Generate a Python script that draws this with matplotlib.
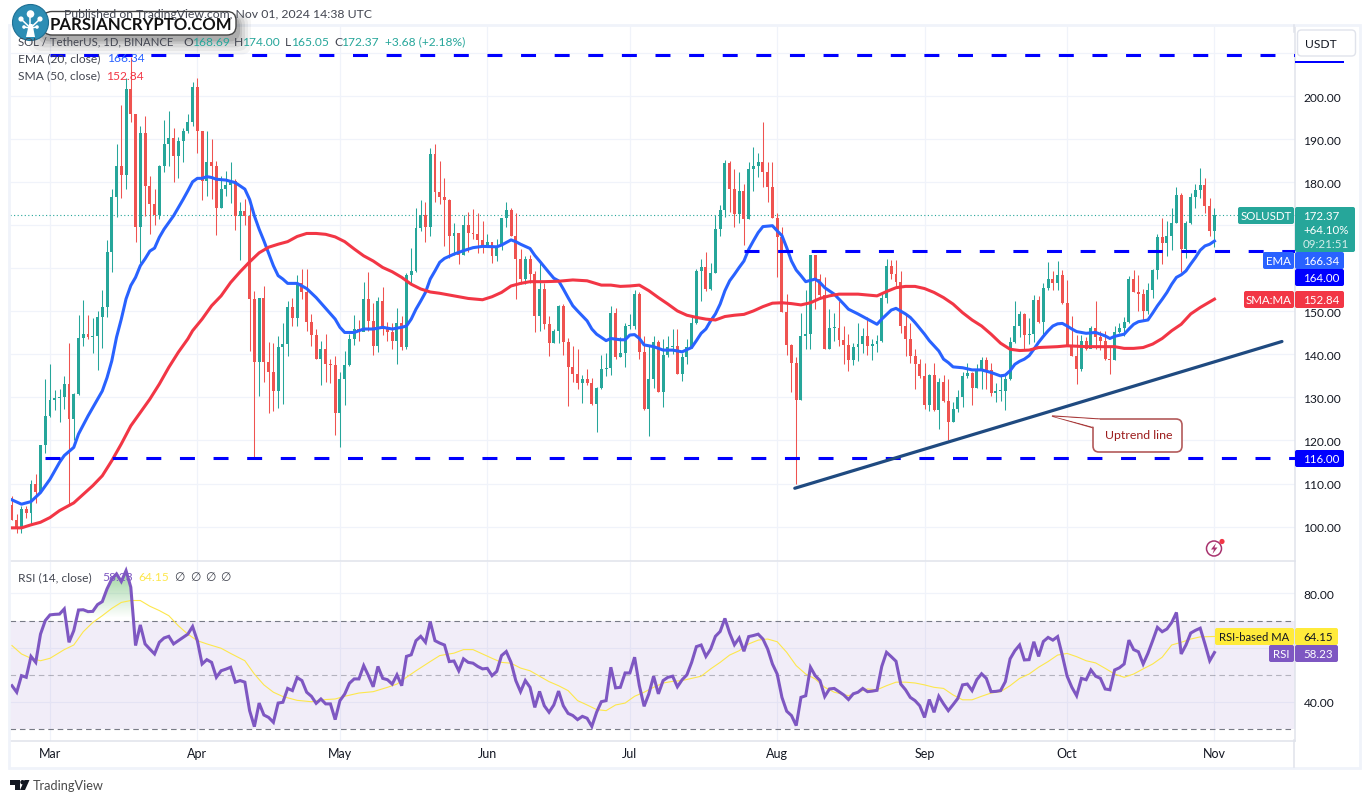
import numpy as np
import matplotlib
matplotlib.use("Agg")
from matplotlib import pyplot as plt
from matplotlib.patches import Circle, FancyBboxPatch, Polygon, Rectangle
from matplotlib.path import Path

plt.rcParams['font.family'] = ['Lato', 'DejaVu Sans']

W, H = 1370, 804

# days are counted from 1 Mar 2024, first candle is 22 Feb
first_day = -8
first_open = 105.0
closes = [
    101.6, 99.6, 104.1, 103.1, 109.9, 108.1, 118.9, 125.7, 129.4, 129.8,
    130, 133.1, 125, 130.8, 143.8, 144.7, 144, 144.2, 148.6, 151,
    163.7, 176.5, 183.7, 181.7, 201.6, 195.8, 169.6, 191.5, 179.2, 174.9,
    172.3, 183.8, 188.9, 190.2, 186.1, 189.5, 191.8, 194.1, 202.2, 192,
    180.3, 184.8, 183.8, 174, 178.5, 179.3, 180.3, 172.2, 173.3, 172.2,
    152.9, 138.3, 153, 138.3, 136, 131.5, 141.8, 142.4, 151.1, 148.4,
    156.7, 154.5, 147.6, 144.6, 138.9, 141.2, 137.7, 137.6, 126.4, 134.4,
    137.5, 143.6, 145.9, 145.3, 152.9, 147.8, 142, 152.4, 145.9, 145.3,
    143.1, 147.4, 141.8, 158.5, 159.3, 169.3, 172.3, 169.6, 186.5, 177.8,
    176.6, 175.9, 167.5, 168.2, 163, 170, 168.3, 168, 166.5, 165.1,
    166, 162.9, 165.2, 171.6, 173.6, 167.6, 162.1, 157.5, 162.1, 158.6,
    149, 155.2, 147, 142.6, 145.5, 151.3, 142.9, 137.1, 135.4, 133.3,
    134.4, 133.3, 128.4, 132.1, 136.6, 136.8, 149.6, 139.5, 140.3, 146.5,
    146.5, 154, 140.6, 127.4, 134.2, 142.8, 131.3, 139.8, 141.8, 141.9,
    135.4, 139.3, 141.8, 147.4, 159.3, 160.4, 155.2, 159, 169.1, 173.5,
    184.4, 178.5, 172.6, 177.9, 171.4, 183, 183.7, 184.8, 182.3, 179,
    171.6, 167.2, 149.9, 142.2, 138, 129.4, 144.2, 144.7, 163, 157.5,
    153.8, 141.2, 146.1, 146.2, 143.4, 142.2, 138.7, 141.8, 142.4, 144.2,
    142, 142.4, 143, 153, 160.6, 158.6, 156.9, 146.6, 143.5, 139.7,
    137.7, 134.9, 128.2, 135.2, 127.1, 133.5, 129.2, 124.2, 127.4, 130,
    134.9, 135.7, 132.1, 136.2, 138.7, 136.4, 131, 131.5, 131.6, 134.2,
    142.8, 146.5, 149.4, 144.5, 144.7, 152.6, 147.6, 155.4, 157.5, 156.5,
    158.4, 151.9, 142, 139.7, 136.6, 143.1, 141.2, 146.2, 144, 143.2,
    138.9, 138.8, 145.3, 146.2, 147.6, 157.5, 154.4, 154, 150.1, 154.9,
    159.7, 167.3, 165.8, 167.6, 170.6, 177, 164.5, 170.6, 176.5, 178.2,
    179.3, 174.4, 168.69, 172.37,
]
highs = [
    107.2, 103, 104.7, 104.7, 110.8, 112.2, 119, 134.4, 137.7, 131.7,
    131.9, 135, 142.6, 131, 149.1, 152.6, 149.1, 148.4, 150.1, 155,
    166.6, 178.4, 188.9, 197.9, 204.3, 209, 195.8, 193.1, 195.4, 181.5,
    178.4, 183.9, 194.5, 196.6, 192.7, 190.4, 192.7, 195.8, 203.2, 204.3,
    192, 192, 190, 185, 181.5, 182.6, 184.6, 180.7, 175.3, 176.2,
    176, 154.8, 153.2, 155.9, 142.8, 142.6, 144.2, 147.4, 152.4, 153.2,
    158.4, 159.8, 159.8, 149.5, 146, 143, 144.7, 138.9, 139.7, 135.8,
    140.8, 144.7, 149.1, 148, 156.9, 159.2, 151.9, 153.3, 155.6, 147.6,
    147.3, 150.7, 149, 159, 164.7, 173.9, 175.8, 175.3, 188, 188.8,
    184.9, 180.9, 176, 170.5, 168.3, 172.3, 173, 173.7, 172.8, 171,
    168, 166.2, 166.9, 171.8, 175.3, 174.1, 172.8, 164.5, 162.9, 163,
    159.4, 161.7, 156.5, 149, 145.9, 151.4, 151.7, 143.7, 142, 141.2,
    135.2, 136.6, 134.6, 132.5, 139.8, 140.3, 151.3, 150.7, 144, 147.4,
    149.3, 154.9, 154.5, 144.3, 142, 144.3, 143.3, 143.5, 144.2, 146,
    146, 140.3, 143.5, 149, 159.8, 162.1, 163.7, 161.3, 172.3, 174.7,
    185.2, 185, 183, 182.3, 179.5, 184.8, 188.1, 186.8, 194, 184.8,
    184.8, 172.8, 169.5, 154, 142.4, 139.4, 149.6, 154.9, 163, 163,
    158.6, 157.9, 150.6, 149.7, 152.3, 146.6, 144.7, 142.7, 147.2, 146.2,
    148.6, 143.5, 144.6, 154, 162.1, 162, 162, 159.4, 149.4, 147.2,
    141.2, 139, 138, 135.4, 138, 134.6, 135.2, 134.2, 129, 131.7,
    136, 138, 135.8, 137.7, 139.5, 139.5, 138, 133.3, 135.4, 135.4,
    144, 152.3, 150.1, 149.7, 148.5, 153.8, 153.6, 156.7, 161.5, 159.4,
    161.7, 159.6, 157.2, 149, 144.5, 144.5, 144, 146.6, 152.3, 145.5,
    145.5, 142, 146.6, 147.4, 148.6, 158.3, 159.6, 158.4, 155.2, 156.5,
    159.8, 167.9, 171.6, 170.9, 174.1, 179, 177.6, 171, 177.6, 179.6,
    183.2, 181.1, 176.4, 174,
]
lows = [
    101.6, 98.6, 98.6, 102.1, 100.5, 105.5, 107.9, 117.2, 125.5, 127.1,
    124.2, 127.3, 105, 120, 130.6, 142, 143.6, 140.3, 136.4, 141.5,
    148.8, 159.1, 172, 176.4, 178.4, 193.9, 166, 161.3, 172.2, 168,
    170, 171.4, 182.3, 183.8, 180, 181, 184.6, 191.5, 193, 186.9,
    175.9, 176.8, 176, 167.8, 174, 176.8, 175.1, 169, 162, 170,
    140.8, 115.9, 130.4, 133.5, 126.5, 126.8, 127.5, 128.5, 139.7, 146.7,
    146.7, 152.9, 145.5, 142, 138.9, 132.9, 133.5, 133.3, 121.3, 118.5,
    128.2, 137.4, 142.2, 143.2, 145.5, 145.5, 139.8, 140.5, 144.5, 143.2,
    141.2, 137.7, 141, 141.2, 156.6, 159.2, 168.7, 166, 167.5, 175.4,
    174.9, 165.2, 162.5, 163, 161, 163, 163.7, 166.8, 163.5, 163.5,
    165.2, 161.2, 161.7, 164.3, 169.7, 167.4, 152.8, 156.3, 156.3, 156.6,
    145.3, 145.5, 145.9, 139.7, 142.6, 142.6, 139.8, 128, 133.5, 132,
    128.7, 132.8, 128.2, 122, 132, 134.9, 135.2, 138.9, 139.5, 137.1,
    146, 146, 138.9, 127, 121.1, 132.3, 131.2, 127.8, 139.5, 140,
    135.4, 133.9, 137.7, 141.6, 147, 152.4, 154.8, 155, 158.9, 167.4,
    172, 173, 169.5, 170.5, 165.4, 171.4, 178, 181.3, 178.8, 175.4,
    171.6, 157.9, 149.9, 139.8, 131.3, 109.9, 129.5, 141.2, 141.2, 150.5,
    152.8, 141.2, 141.2, 143.2, 142, 137.7, 136.2, 137.5, 138.5, 140.4,
    139.8, 138.7, 140.6, 142.8, 151.9, 157.5, 156, 145, 139.7, 138.1,
    131.9, 134.6, 127.4, 126.9, 126.9, 122.6, 129, 120, 124.2, 126.7,
    127.7, 134.6, 128.2, 132.1, 132, 132, 130.4, 129, 129.2, 127.1,
    134, 142.6, 144, 141.2, 142.4, 142.8, 147.4, 144.5, 155, 155,
    154.9, 151.7, 142, 139.7, 133.1, 136.2, 141, 142, 141.2, 141,
    138.7, 135.4, 138.8, 145, 144.3, 147.2, 154.4, 150.1, 147.8, 149.3,
    153.2, 157.5, 161, 162.9, 164.3, 170.5, 159.2, 162.5, 170.3, 174.1,
    176.4, 172.8, 167.6, 165.05,
]

ema_days = [
    -8, -6, -4, -2, 0, 2, 3, 5, 6, 8, 10, 11, 12, 13, 14, 15, 16, 17, 18, 19,
    20, 21, 22, 23, 24, 26, 28, 29, 30, 31, 32, 33, 34, 35, 37, 39, 41, 42,
    43, 44, 45, 46, 47, 48, 49, 50, 52, 54, 56, 58, 60, 61, 62, 64, 66, 68,
    70, 72, 74, 75, 76, 77, 78, 79, 80, 81, 82, 83, 85, 87, 89, 91, 94, 95,
    97, 98, 99, 101, 102, 103, 105, 106, 107, 108, 109, 110, 111, 113, 114,
    115, 117, 118, 120, 121, 122, 123, 124, 125, 127, 129, 131, 133, 135,
    136, 137, 138, 139, 140, 141, 142, 143, 144, 145, 146, 147, 148, 149,
    150, 152, 153, 154, 155, 156, 157, 158, 159, 161, 162, 163, 165, 167,
    168, 170, 172, 174, 175, 177, 178, 180, 181, 182, 184, 185, 187, 188,
    189, 190, 192, 194, 196, 198, 200, 201, 202, 203, 204, 205, 206, 207,
    208, 209, 210, 211, 212, 213, 214, 215, 216, 218, 220, 222, 223, 224,
    226, 227, 228, 229, 231, 232, 233, 234, 235, 236, 237, 238, 239, 240,
    241, 242, 243, 244, 245,
]
ema_vals = [
    106.2, 105.2, 105.8, 107.9, 111, 114.9, 116.5, 118.4, 121.5, 125.7, 129.6,
    131.5, 134.6, 138.5, 144, 148.2, 152.9, 156, 157.9, 160.6, 162.2, 164,
    164.7, 167.2, 169.1, 172.2, 176, 178, 180.1, 180.9, 180.9, 181.3, 181.1,
    180.7, 180.5, 179.9, 178.4, 176, 172.2, 169.1, 166.4, 163.5, 160.6, 158.3,
    157.5, 156.5, 156.5, 155.3, 153.2, 150.7, 148.2, 146.3, 145.1, 145.1,
    145.9, 145.9, 146.3, 145.9, 146.3, 146.6, 148.2, 150.5, 152.4, 154.4,
    157.5, 159.4, 161.4, 162.3, 163.3, 164.1, 164.8, 165.1, 165, 165.4, 166.6,
    166.2, 165.6, 164.6, 163, 161.7, 159, 157.7, 157.1, 155.2, 153.2, 151.3,
    150.1, 147.8, 145.9, 144.7, 143.2, 143.7, 143.4, 143.4, 144.5, 144.6,
    143.7, 142.2, 141.8, 141, 141, 140.6, 141.6, 143.2, 144.9, 145.9, 147.8,
    149.4, 151.7, 154.8, 157.1, 158.6, 160.2, 161.7, 164.4, 166.4, 168.3,
    169.7, 169.9, 168.7, 167.6, 164.8, 161.7, 159.6, 158.3, 156.9, 157.5,
    156.7, 155.5, 154, 151.7, 150.5, 149.4, 148.2, 147, 148.2, 150.3, 150.7,
    149.4, 148.6, 147.4, 144.7, 143.2, 140.8, 138.9, 138.1, 137.1, 136.9,
    136.4, 136.4, 135.8, 135, 135.2, 136.2, 137.7, 138.4, 138.9, 139.7, 141.2,
    142.8, 144.2, 145.5, 146.6, 147.1, 147.2, 146.6, 145.9, 145.3, 144.9,
    145.1, 144.3, 143.7, 144.2, 144.7, 145.9, 147, 147.6, 148, 149.6, 151.3,
    152.8, 154.4, 156.3, 157.9, 158.5, 159.4, 161, 162.5, 164.2, 165.2, 165.6,
    166.34,
]

sma_days = [
    -8, -6, -4, -2, 0, 2, 5, 7, 9, 11, 13, 15, 17, 19, 21, 23, 25, 27, 29, 30,
    32, 34, 36, 38, 40, 42, 44, 46, 48, 50, 52, 54, 56, 58, 60, 62, 64, 66,
    68, 70, 72, 74, 76, 78, 80, 82, 84, 86, 88, 90, 91, 93, 95, 97, 99, 101,
    104, 107, 110, 113, 116, 118, 120, 122, 124, 126, 128, 130, 132, 134, 136,
    138, 140, 142, 144, 146, 148, 150, 152, 154, 156, 158, 160, 162, 164, 166,
    170, 174, 176, 178, 180, 182, 184, 186, 188, 190, 192, 194, 196, 198, 200,
    202, 204, 206, 208, 212, 214, 218, 222, 224, 226, 228, 230, 232, 234, 236,
    238, 240, 242, 244, 245,
]
sma_vals = [
    99.7, 99.7, 100.4, 101, 102.1, 103.7, 105.5, 107.5, 109.5, 111.8, 115.3,
    119.2, 123.4, 126.5, 129.6, 133.1, 137, 140.5, 143.6, 145.5, 148.2, 151.3,
    153.6, 156.7, 159.2, 161.5, 163.6, 164.9, 165.6, 166.2, 167.4, 168.1,
    168.1, 167.9, 167.3, 166.2, 164.5, 162.9, 161.7, 160.2, 159.2, 157.9,
    156.3, 155.2, 154.5, 154.2, 153.8, 153.4, 153, 152.8, 152.7, 153.4, 154.4,
    155.9, 156.5, 156.9, 156.9, 157, 157.3, 157.1, 156.1, 156.1, 155.8, 155.9,
    156.1, 154.8, 153.2, 151.7, 150.1, 149.1, 148.6, 148.2, 148, 148.8, 149.1,
    149.3, 150.1, 151.1, 151.9, 152, 151.8, 151.5, 152, 153, 153.6, 154, 154,
    153.6, 154.6, 155.5, 155.8, 155.8, 155.3, 154.4, 153.2, 151.7, 149.7, 148,
    146.6, 144.7, 142.6, 141.2, 140.9, 141, 141.6, 141.8, 142, 141.8, 141.8,
    141.8, 141.4, 141.4, 141.6, 142.4, 143.7, 145.5, 147, 149.4, 150.9, 152.2,
    152.84,
]

rsi_vals = [
    46, 43.6, 49.7, 49.1, 56.8, 54.6, 65, 70, 72.1, 72.3,
    72.4, 74.3, 62, 66.3, 73.9, 74, 73.3, 73.4, 75.9, 77,
    81.7, 85.3, 87.2, 84.4, 88.4, 82.3, 60.8, 68.4, 61.4, 59.5,
    57.7, 62, 63.6, 64.2, 61.4, 62.6, 63.8, 65, 67.8, 62.6,
    54, 55.6, 54.6, 49.1, 51.5, 52.1, 52.8, 47.3, 47.9, 47.3,
    36.8, 30.9, 39.6, 35.2, 34.3, 32.5, 39.6, 39.9, 45, 44.2,
    49, 47.9, 43.6, 42.1, 39.5, 41.1, 39.3, 39.3, 33.5, 40.5,
    42.9, 46.9, 48.5, 48.5, 53.4, 49.7, 45.6, 53.1, 48.7, 48.2,
    46.6, 50, 46, 56.8, 57.4, 62.6, 64.2, 62, 69.6, 62.6,
    61.7, 61, 54.9, 55.1, 51.5, 55.9, 54.6, 54.3, 53.1, 52.2,
    52.4, 49.7, 51.3, 57.1, 58.6, 54.6, 47.9, 43.8, 47.9, 45.4,
    38, 43.9, 38.6, 36.2, 38.9, 44, 38.6, 35.8, 35, 33.5,
    34.7, 34, 31, 36.2, 40.1, 40.5, 52.8, 45.2, 45.4, 50.7,
    50.7, 56.5, 46, 38.4, 43, 49.5, 43, 47.9, 49.1, 49.5,
    45.6, 48.2, 50, 54.6, 60.4, 61, 56.8, 59.5, 64.2, 66,
    70.8, 65.4, 61.1, 63.6, 58.7, 64.1, 64.5, 65, 63.2, 59.5,
    54, 50.3, 41.7, 36.6, 35, 31.3, 41.7, 42.3, 52.8, 49.7,
    47.9, 42, 44.8, 45, 43.8, 42.6, 40.9, 43, 43.6, 45,
    43.8, 44, 44.3, 53.1, 58.3, 56.7, 55, 46.6, 44.5, 41.7,
    40.5, 38.6, 34.3, 40.9, 36.2, 42.1, 39.3, 36.8, 39, 41.3,
    46.3, 46.6, 44.2, 48.2, 50.4, 48.7, 43.8, 43.9, 44.2, 47.5,
    55.9, 58.9, 61, 55.5, 55.6, 62.2, 56.8, 62.3, 63.8, 62.8,
    64.1, 57.1, 49.5, 45.4, 42.3, 48.7, 48.2, 51.8, 49.5, 48.7,
    44.8, 44.5, 51.8, 52.6, 54, 62.8, 59.3, 58.5, 54, 57.9,
    62.6, 67.5, 65.9, 66.9, 69.3, 73, 57.7, 61, 65.4, 66.4,
    67.2, 61.4, 55.2, 58.23,
]
rsi_ma_days = [
    -8, -6, -4, -2, 0, 3, 5, 7, 9, 11, 13, 15, 17, 19, 21, 23, 25, 27, 29, 31,
    33, 36, 38, 41, 43, 45, 47, 49, 52, 55, 58, 60, 62, 65, 68, 71, 73, 75,
    77, 80, 82, 85, 87, 89, 91, 93, 95, 97, 99, 101, 103, 105, 107, 109, 111,
    113, 115, 117, 119, 121, 123, 125, 127, 129, 131, 133, 135, 137, 139, 141,
    143, 145, 147, 149, 151, 153, 155, 157, 159, 161, 163, 165, 168, 170, 172,
    174, 176, 178, 180, 182, 184, 186, 188, 190, 192, 194, 196, 198, 200, 202,
    204, 206, 208, 210, 212, 214, 216, 218, 220, 222, 224, 226, 228, 230, 232,
    234, 236, 238, 240, 242, 245,
]
rsi_ma_vals = [
    60.8, 57.7, 56.1, 55.2, 56.1, 59.3, 61, 65.9, 69.3, 71.8, 74.5, 76.7, 77.4,
    77.4, 75.3, 73.7, 71.8, 68.1, 65, 62.6, 61.4, 59.8, 57.9, 55.2, 50.3, 46.3,
    43.6, 42, 40.6, 40.1, 40.9, 41.1, 42.1, 43.3, 43.8, 45.4, 46.6, 49.1, 51.5,
    54.9, 57.1, 58, 59.3, 59.3, 57.7, 56.1, 54.6, 54.3, 52.5, 51.5, 49.5, 47.5,
    46, 44.2, 40.5, 38.9, 37.2, 36.8, 38.9, 39.6, 42.1, 43.6, 45.4, 47, 47.6,
    47.9, 48.7, 49.5, 52.2, 54.6, 57.3, 58.9, 61.4, 62.8, 63.2, 62.2, 58.3,
    53.4, 50.3, 48.5, 45.4, 43.6, 42.3, 43.6, 44.8, 44.5, 46, 47.3, 47.3, 47,
    46.3, 45.4, 45, 42.6, 40.8, 40.8, 42.1, 43.3, 43.8, 46, 48.7, 50.3, 52.8,
    54.9, 57.3, 57.9, 56.7, 55.2, 54.4, 52.4, 50.3, 49.1, 50.3, 52.2, 54, 56.5,
    61, 62, 63.2, 64, 64.15,
]

month_days = [0, 31, 61, 92, 122, 153, 184, 214, 245]
month_labels = ["Mar", "Apr", "May", "Jun", "Jul", "Aug", "Sep", "Oct", "Nov"]
price_ticks = [100, 110, 120, 130, 140, 150, 160, 170, 180, 190, 200, 210]
rsi_ticks = [40, 60, 80]
rsi_tick_labels = ["40.00", "", "80.00"]

# levels the author drew on the chart: price, first day
level_prices = [209.64, 164.0, 116.0]
level_starts = [0, 146, -1]
trend_days = [156.7, 259.2]
trend_prices = [108.9, 143.0]

last_close = closes[-1]

UP = "#26a69a"
DOWN = "#ef5350"
EMA_COLOR = "#2962ff"
SMA_COLOR = "#f23645"
RSI_COLOR = "#7e57c2"
MA_COLOR = "#ffeb3b"
GRID = "#f0f3fa"
EDGE = "#e0e3eb"
INK = "#131722"
LEVEL = "#0000ff"
SOFT = "#434651"


def px_axes(fig, left, top, right, bottom):
    """
    Add axes placed in image pixels
    """
    return fig.add_axes([left / W, 1 - bottom / H, (right - left) / W, (bottom - top) / H])


def put(over, x, y, s, color=INK, size=12, **kw):
    """
    Write text on the overlay, size is in pixels
    """
    kw.setdefault("va", "center")
    return over.text(x, y, s, color=color, fontsize=size * 0.72, **kw)


def tag(over, x0, x1, y0, y1, color):
    """
    Filled label with small rounded corners
    """
    over.add_patch(FancyBboxPatch((x0, y0), x1 - x0, y1 - y0, boxstyle="round,pad=0,rounding_size=2",
                                  fc=color, ec="none"))


def draw_candles(ax):
    days = np.arange(first_day, first_day + len(closes))
    c = np.array(closes)
    o = np.concatenate([[first_open], c[:-1]])
    colors = np.where(c >= o, UP, DOWN)
    ax.vlines(days, lows, highs, colors=colors, lw=0.75, zorder=2)
    ax.bar(days, np.maximum(np.abs(c - o), 0.22), bottom=np.minimum(o, c), width=0.62, color=colors, lw=0, zorder=2)


def style_pane(ax):
    ax.set_xlim(-8.416, 261.84)
    ax.yaxis.tick_right()
    ax.tick_params(length=0, labelsize=12 * 0.72, labelcolor=INK, pad=6.5)
    ax.set_xticks(month_days)
    ax.grid(True, color=GRID, lw=0.9, zorder=0)
    ax.set_axisbelow(True)
    for side in ("top", "left"):
        ax.spines[side].set_visible(False)
    for side in ("right", "bottom"):
        ax.spines[side].set_color(EDGE)
        ax.spines[side].set_linewidth(1.1)


fig = plt.figure(figsize=(W / 100, H / 100), dpi=100, facecolor="white")
ax = px_axes(fig, 10, 27, 1294.5, 562)
ax_rsi = px_axes(fig, 10, 563, 1294.5, 741.5)

# price pane
style_pane(ax)
draw_candles(ax)
ax.plot(ema_days, ema_vals, color=EMA_COLOR, lw=2.2, zorder=3, solid_joinstyle="round")
ax.plot(sma_days, sma_vals, color=SMA_COLOR, lw=2.2, zorder=3, solid_joinstyle="round")
ax.axhline(last_close, color=UP, lw=0.8, ls=(0, (1, 2.2)), zorder=1)
for price, start in zip(level_prices, level_starts):
    ax.hlines(price, start, 270, color=LEVEL, lw=2.2, linestyles=[(0, (4.9, 6.1))], zorder=4)
ax.plot(trend_days, trend_prices, color="#1f4a80", lw=2.3, zorder=5, solid_capstyle="round")
ax.set_ylim(92, 216.3)
ax.set_yticks(price_ticks, labels=["%.2f" % p if p < 210 else "" for p in price_ticks])
ax.tick_params(axis="x", labelbottom=False)

# RSI pane
style_pane(ax_rsi)
rsi_x = np.arange(first_day, first_day + len(rsi_vals))
rsi = np.array(rsi_vals)
ax_rsi.axhspan(30, 70, color=RSI_COLOR, alpha=0.1, lw=0, zorder=1)
for level, alpha in ((70, 1), (50, 0.5), (30, 1)):
    ax_rsi.axhline(level, color="#787b86", alpha=alpha, lw=0.8, ls=(0, (5, 3.5)), zorder=1.5)

# overbought gradient, stronger towards the top
over_fill = ax_rsi.fill_between(rsi_x, 70, rsi, where=rsi >= 70, interpolate=True, lw=0)
clip = Path.make_compound_path(*over_fill.get_paths())
over_fill.remove()
grad = np.zeros((64, 2, 4))
grad[..., :3] = matplotlib.colors.to_rgb("#4caf50")
grad[..., 3] = np.linspace(0.55, 0.0, 64)[:, None]
im = ax_rsi.imshow(grad, extent=(-8, 25, 71, 88.5), aspect="auto", zorder=1.8, interpolation="bilinear")
im.set_clip_path(clip, transform=ax_rsi.transData)

ax_rsi.plot(rsi_ma_days, rsi_ma_vals, color="#fde74c", lw=0.8, zorder=2)
ax_rsi.plot(rsi_x, rsi, color=RSI_COLOR, lw=2.2, zorder=3, solid_joinstyle="miter")
ax_rsi.set_xlim(-8.416, 261.84)
ax_rsi.set_ylim(25.8, 91.6)
ax_rsi.set_yticks(rsi_ticks, labels=rsi_tick_labels)
ax_rsi.set_xticks(month_days, labels=month_labels)
ax_rsi.tick_params(axis="x", pad=5, labelsize=12.5 * 0.72)

# chrome, labels and annotations in image pixels
over = fig.add_axes([0, 0, 1, 1], zorder=10)
over.set_xlim(0, W)
over.set_ylim(H, 0)
over.axis("off")
over.patch.set_visible(False)

over.add_patch(Rectangle((9.5, 26), 1350.5, 743, fc="none", ec=GRID, lw=2))
over.plot([1294.5, 1294.5], [741, 768], color=EDGE, lw=1.1)
over.plot([1294.5, 1294.5], [26, 33], color=EDGE, lw=1.1)

# header legend
put(over, 372, 14, "Published on TradingView.com, Nov 01, 2024 14:38 UTC", color=SOFT, ha="right", size=12.2)
put(over, 18, 42, "SOL / TetherUS, 1D, BINANCE", color=SOFT, size=11.4)
for x, s, col in [(183, "O", SOFT), (193, "168.69", UP), (234, "H", SOFT), (243, "174.00", UP),
                  (285, "L", SOFT), (292, "165.05", UP), (334, "C", SOFT), (342, "172.37", UP),
                  (385, "+3.68 (+2.18%)", UP)]:
    put(over, x, 42, s, color=col)
put(over, 18, 59, "EMA (20, close)", color=SOFT)
put(over, 108, 59, "166.34", color=EMA_COLOR)
put(over, 18, 76, "SMA (50, close)", color=SOFT)
put(over, 107, 76, "152.84", color=SMA_COLOR)
put(over, 18, 578, "RSI (14, close)", color=SOFT)
put(over, 102, 578, "58.23", color=RSI_COLOR)
put(over, 138, 578, "64.15", color="#fde74c")
for x in (179, 195, 210, 225):
    put(over, x, 578, "∅", color=SOFT, ha="center")

# USDT button
over.add_patch(FancyBboxPatch((1297.5, 31), 58, 26, boxstyle="round,pad=0,rounding_size=4", fc="white", ec=EDGE, lw=1))
put(over, 1321, 44.5, "USDT", ha="center")
over.add_patch(Rectangle((1295, 61.5), 49, 2.5, fc=LEVEL, ec="none"))

# right scale labels
tag(over, 1238, 1294, 208, 225, UP)
put(over, 1266, 216.5, "SOLUSDT", color="white", ha="center", size=11.5)
tag(over, 1295, 1355, 208, 253, UP)
put(over, 1303, 217, "172.37", color="white", size=11.5)
put(over, 1303, 231, "+64.10%", color="white", size=11.5)
put(over, 1303, 245, "09:21:51", color="#d4eeeb", size=11.5)
tag(over, 1263, 1294, 253, 270, EMA_COLOR)
put(over, 1278.5, 261.5, "EMA", color="white", ha="center", size=11.5)
tag(over, 1295, 1344, 253, 270, EMA_COLOR)
put(over, 1303, 261.5, "166.34", color="white", size=11.5)
tag(over, 1295, 1344, 270, 287, LEVEL)
put(over, 1303, 278.5, "164.00", color="white", size=11.5)
tag(over, 1244, 1294, 292, 309, SMA_COLOR)
put(over, 1269, 300.5, "SMA:MA", color="white", ha="center", size=11.5)
tag(over, 1295, 1344, 292, 309, SMA_COLOR)
put(over, 1303, 300.5, "152.84", color="white", size=11.5)
tag(over, 1295, 1344, 451, 468, LEVEL)
put(over, 1303, 459.5, "116.00", color="white", size=11.5)
tag(over, 1215, 1294, 629, 646, MA_COLOR)
put(over, 1254.5, 637.5, "RSI-based MA", ha="center", size=11.3)
tag(over, 1295, 1338, 629, 646, MA_COLOR)
put(over, 1303, 637.5, "64.15", size=11.5)
tag(over, 1269, 1294, 646, 663, RSI_COLOR)
put(over, 1281.5, 654.5, "RSI", color="white", ha="center", size=11.5)
tag(over, 1295, 1338, 646, 663, RSI_COLOR)
put(over, 1303, 654.5, "58.23", color="white", size=11.5)

# uptrend callout
over.add_patch(Polygon([(1052, 417), (1098, 420), (1094, 429)], closed=True, fc="#fbf3f3", ec="#a83a3a", lw=1))
over.add_patch(FancyBboxPatch((1093, 420), 89, 33, boxstyle="round,pad=0,rounding_size=6",
                              fc="white", ec="#b35a5a", lw=1.2))
over.add_patch(Polygon([(1054, 417.6), (1100, 420.5), (1094.5, 428)], closed=True, fc="white", ec="none"))
put(over, 1138.5, 436, "Uptrend line", color="#9c1c1c", ha="center", size=12.4)

# alert icon
over.add_patch(Circle((1214, 549.5), 7.5, fc="white", ec="#a8326e", lw=1.1))
over.add_patch(Polygon([(1216, 544), (1211, 550.5), (1214, 550.5), (1212.5, 555), (1217.5, 548.5), (1214.5, 548.5)],
                       closed=True, fc="#a8326e", ec="none"))
over.add_patch(Circle((1222, 542.5), 2.6, fc="#f23645", ec="none"))

# site badge
for grow, a in ((13, 0.04), (10, 0.05), (7, 0.07), (4, 0.09), (2, 0.11)):
    over.add_patch(FancyBboxPatch((42 - grow, 18 - grow * 0.3), 196 + 2 * grow, 22 + grow * 1.5,
                                  boxstyle="round,pad=0,rounding_size=10", fc="black", ec="none", alpha=a))
over.add_patch(FancyBboxPatch((43, 12.5), 193, 23.5, boxstyle="round,pad=0,rounding_size=9",
                              fc="white", ec="#444444", lw=1))
over.add_patch(Circle((30.5, 23.5), 18, fc="#2d8db4", ec="#1e6f93", lw=0.8))
over.add_patch(Polygon([(26, 38), (35, 38), (32.5, 25), (29, 25)], closed=True, fc="white", ec="none"))
for cx, cy, r in ((30.5, 15, 3.8), (21, 20, 2.6), (40, 20, 2.6), (24, 28, 1.8), (37, 28, 1.8)):
    over.add_patch(Circle((cx, cy), r, fc="white", ec="none"))
    over.plot([30.5, cx], [29, cy], color="white", lw=1.1)
put(over, 141, 24.5, "PARSIANCRYPTO.COM", color="#111111", ha="center", size=16.8, fontweight="bold")

# TradingView mark at the bottom
over.add_patch(Polygon([(10, 781), (20, 781), (20, 791), (15, 791), (15, 785.5), (10, 785.5)], closed=True, fc=INK, ec="none"))
over.add_patch(Circle((22.5, 783.2), 2.2, fc=INK, ec="none"))
over.add_patch(Polygon([(24.5, 781), (29.5, 781), (25, 791), (20, 791)], closed=True, fc=INK, ec="none"))
put(over, 33, 786, "TradingView", color="#4a4a4a", size=12.8)

fig.savefig("out.png", dpi=100)
